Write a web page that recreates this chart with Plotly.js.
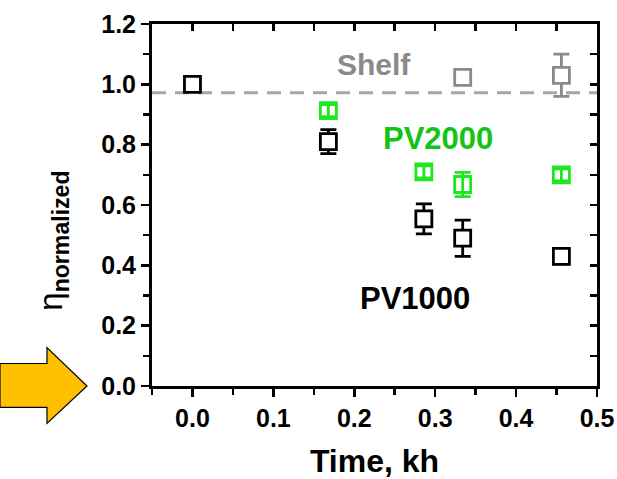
<!DOCTYPE html>
<html>
<head>
<meta charset="utf-8">
<script src="https://cdn.plot.ly/plotly-3.0.1.min.js"></script>
<style>html,body{margin:0;padding:0;background:#fff;}#chart{width:617px;height:479px;}</style>
</head>
<body>
<div id="chart"></div>
<script>
// ---- data ----
const pv1000Time = [0.0, 0.168, 0.286, 0.334, 0.456];
const pv1000Eta  = [1.0, 0.81, 0.554, 0.49, 0.43];
const pv1000Err  = [0.0, 0.04, 0.05, 0.06, 0.025];

const pv2000Time = [0.168, 0.286, 0.334, 0.456];
const pv2000Eta  = [0.913, 0.71, 0.668, 0.70];
const pv2000Err  = [0.02, 0.02, 0.04, 0.02];

const shelfTime = [0.334, 0.456];
const shelfEta  = [1.023, 1.03];
const shelfErr  = [0.0, 0.07];

const shelfLevel = 0.972;

const xTickVals = [0.0, 0.1, 0.2, 0.3, 0.4, 0.5];
const xTickText = ["0.0", "0.1", "0.2", "0.3", "0.4", "0.5"];
const yTickVals = [0.0, 0.2, 0.4, 0.6, 0.8, 1.0, 1.2];
const yTickText = ["0.0", "0.2", "0.4", "0.6", "0.8", "1.0", "1.2"];

const seriesLabels = {pv1000: "PV1000", pv2000: "PV2000", shelf: "Shelf"};

// ---- styling ----
const FONT = "Liberation Sans, Arial, sans-serif";
const GREEN = "#1ee81e";
const GREEN_TXT = "#14c414";
const GREY = "#8a8a8a";

// plot area in pixels (for paper conversions of decorations)
const L = 152, R = 597, T = 24, B = 386.5;
const px = v => (v - L) / (R - L);
const py = v => (B - v) / (B - T);

function errTrace(x, y, err, color, symbol, fill) {
  return {
    type: "scatter", mode: "markers", x: x, y: y,
    marker: {symbol: symbol, size: 16, color: fill, line: {color: color, width: 2.8}},
    error_y: {type: "data", array: err, visible: true, color: color, thickness: 2.8, width: 8},
    showlegend: false, hoverinfo: "skip", cliponaxis: false
  };
}

const traces = [
  errTrace(pv1000Time, pv1000Eta, pv1000Err, "#000000", "square", "#ffffff"),
  errTrace(shelfTime, shelfEta, shelfErr, GREY, "square", "#ffffff"),
  errTrace(pv2000Time, pv2000Eta, pv2000Err, GREEN, "square-open", GREEN),
  // invisible trace that carries the mirrored (top/right) axes
  {type: "scatter", mode: "markers", x: pv1000Time, y: pv1000Eta, xaxis: "x2", yaxis: "y2",
   marker: {opacity: 0}, showlegend: false, hoverinfo: "skip"}
];

const arrow = [[0,364],[47,364],[47,348],[87,386.5],[47,424],[47,408],[0,408]];
const arrowPath = "M" + arrow.map(p => px(p[0]).toFixed(4) + "," + py(p[1]).toFixed(4)).join(" L") + " Z";

const layout = {
  width: 617, height: 479,
  margin: {l: L, r: 617 - R, t: T, b: 479 - B},
  paper_bgcolor: "#ffffff", plot_bgcolor: "#ffffff",
  font: {family: FONT, color: "#000"},
  showlegend: false,
  xaxis: {
    range: [-0.05, 0.5], tickvals: xTickVals, ticktext: xTickText,
    ticks: "outside", ticklen: 8, tickwidth: 2.5, tickcolor: "#000",
    minor: {dtick: 0.05, tick0: 0, ticks: "outside", ticklen: 6, tickwidth: 2.5, tickcolor: "#000", showgrid: false},
    showline: true, linewidth: 3, linecolor: "#000", showgrid: false, zeroline: false,
    tickfont: {family: FONT, size: 25, weight: "bold", color: "#000"},
    title: {text: "Time, kh", font: {family: FONT, size: 32, weight: "bold", color: "#000"}, standoff: 20},
    automargin: false
  },
  yaxis: {
    range: [0, 1.2], tickvals: yTickVals, ticktext: yTickText,
    ticks: "outside", ticklen: 8, tickwidth: 2.5, tickcolor: "#000",
    minor: {dtick: 0.1, tick0: 0, ticks: "outside", ticklen: 6, tickwidth: 2.5, tickcolor: "#000", showgrid: false},
    showline: true, linewidth: 3, linecolor: "#000", showgrid: false, zeroline: false,
    tickfont: {family: FONT, size: 25, weight: "bold", color: "#000"},
    automargin: false
  },
  xaxis2: {
    overlaying: "x", side: "top", anchor: "y2", range: [-0.05, 0.5],
    tick0: 0, dtick: 0.05, ticks: "inside", ticklen: 7, tickwidth: 2.5, tickcolor: "#000",
    showticklabels: false, showline: true, linewidth: 3, linecolor: "#000", showgrid: false, zeroline: false
  },
  yaxis2: {
    overlaying: "y", side: "right", anchor: "x2", range: [0, 1.2],
    tick0: 0, dtick: 0.1, ticks: "inside", ticklen: 7, tickwidth: 2.5, tickcolor: "#000",
    showticklabels: false, showline: true, linewidth: 3, linecolor: "#000", showgrid: false, zeroline: false
  },
  shapes: [
    {type: "line", xref: "paper", yref: "y", x0: 0, x1: 1, y0: shelfLevel, y1: shelfLevel,
     line: {color: "#a6a6a6", width: 3, dash: "14px,9px"}, layer: "below"},
    {type: "path", xref: "paper", yref: "paper", path: arrowPath,
     fillcolor: "#ffc000", line: {color: "#000", width: 1.2}, layer: "above"}
  ],
  annotations: [
    {xref: "x", yref: "y", x: 0.224, y: 1.066, text: seriesLabels.shelf, showarrow: false,
     font: {family: FONT, size: 30, weight: "bold", color: GREY}},
    {xref: "x", yref: "y", x: 0.304, y: 0.822, text: seriesLabels.pv2000, showarrow: false,
     font: {family: FONT, size: 31, weight: "bold", color: GREEN_TXT}},
    {xref: "x", yref: "y", x: 0.275, y: 0.29, text: seriesLabels.pv1000, showarrow: false,
     font: {family: FONT, size: 31, weight: "bold", color: "#000"}},
    {xref: "paper", yref: "paper", x: px(30), y: py(241), textangle: -90, showarrow: false,
     text: "η<sub><b>normalized</b></sub>", font: {family: FONT, size: 33, color: "#000"}}
  ]
};

Plotly.newPlot("chart", traces, layout, {staticPlot: true, displayModeBar: false});
</script>
</body>
</html>
